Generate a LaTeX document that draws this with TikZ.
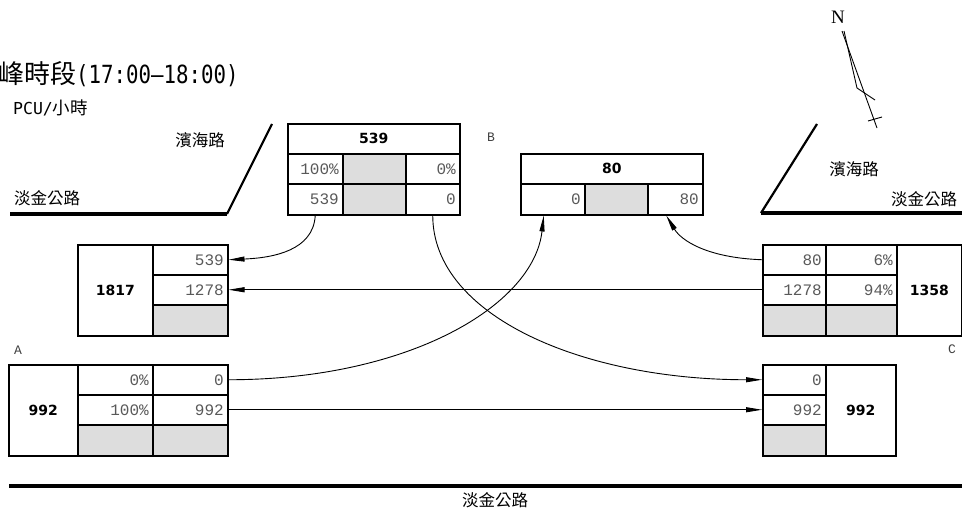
\documentclass[tikz,border=0pt]{standalone}
\usepackage{fontspec}
\usetikzlibrary{arrows.meta}
\newfontfamily\cjkfont{Noto Sans CJK TC}
\newfontfamily\numfont{Liberation Mono}
\newfontfamily\hdfont{DejaVu Sans}
\newfontfamily\gothfont[FakeStretch=0.83]{DejaVu Sans Mono}
\newfontfamily\gothwide{DejaVu Sans Mono}
\newfontfamily\nfont{Liberation Serif}
\definecolor{cellgray}{HTML}{DDDDDD}

\begin{document}
\begin{tikzpicture}[x=1pt, y=-1pt,
      cell/.style={draw, line width=1.5pt, anchor=north west, inner xsep=4pt, inner ysep=0pt, minimum height=30pt,
        text width=#1, align=right, font=\fontsize{16}{16}\selectfont\numfont, text=black!65},
      graycell/.style={cell=#1, fill=cellgray},
      hdcell/.style={draw, line width=1.5pt, anchor=north west, inner sep=0pt, minimum width=#1, minimum height=30pt,
        font=\fontsize{14}{14}\selectfont\hdfont\bfseries},
      tag/.style={font=\fontsize{13}{13}\selectfont\numfont, text=black!75},
      rname/.style={font=\fontsize{16.5}{17}\selectfont\cjkfont},
      arr/.style={-{Triangle[length=16pt,width=5pt]}, line width=0.9pt}]
    \useasboundingbox (0,0) rectangle (962,511);
    \node[anchor=base west, inner sep=0pt, font=\fontsize{26}{26}\selectfont\cjkfont] (title) at (-2,84)
      {峰時段{\fontsize{25}{25}\selectfont\gothfont(17:00–18:00)}};
    \node[anchor=base west, inner sep=0pt, font=\fontsize{17.5}{17}\selectfont\cjkfont] (unit) at (13,114)
      {{\fontsize{16.5}{16}\selectfont\gothwide PCU/}小時};
    \draw[line width=3.5pt] (10,214) -- (227,214);
    \draw[line width=2.2pt] (227,214) -- (272,124);
    \draw[line width=3.5pt] (761,213) -- (962,213);
    \draw[line width=2.2pt] (761,213) -- (817,124);
    \draw[line width=4pt] (9,486) -- (962,486);
    \node[rname] (tl road) at (200,140) {濱海路};
    \node[rname] (tl main) at (47,198) {淡金公路};
    \node[rname] (tr road) at (854,169) {濱海路};
    \node[rname] (tr main) at (924,199) {淡金公路};
    \node[rname] (bt main) at (495,500) {淡金公路};
    \node[font=\fontsize{19}{19}\selectfont\nfont] (north) at (838,17) {N};
    \draw[line width=0.9pt] (842,31) -- (877,128);
    \draw[line width=0.9pt] (844,31) -- (857,88) -- (875,100);
    \draw[line width=0.9pt] (868,121) -- (882,117);
    \node[tag] (la) at (18,350) {A};
    \node[tag] (lb) at (491,137) {B};
    \node[tag] (lc) at (952,349) {C};
    \node[hdcell=172pt] (tsum) at (287,123) {539};
    \node[cell=47pt] (tpl) at (287,153) {100\%};
    \node[graycell=55pt] (tpm) at (342,153) {};
    \node[cell=46pt] (tpr) at (405,153) {0\%};
    \node[cell=47pt, minimum height=31pt] (tvl) at (287,183) {539};
    \node[graycell=55pt, minimum height=31pt] (tvm) at (342,183) {};
    \node[cell=46pt, minimum height=31pt] (tvr) at (405,183) {0};
    \node[hdcell=182pt] (bsum) at (520,153) {80};
    \node[cell=56pt, minimum height=31pt] (bvl) at (520,183) {0};
    \node[graycell=55pt, minimum height=31pt] (bvm) at (584,183) {};
    \node[cell=47pt, minimum height=31pt] (bvr) at (647,183) {80};
    \node[hdcell=75pt, minimum height=91pt] (lsum) at (77,244) {1817};
    \node[cell=67pt] (lv1) at (152,244) {539};
    \node[cell=67pt] (lv2) at (152,274) {1278};
    \node[graycell=67pt, minimum height=31pt] (lv3) at (152,304) {};
    \node[cell=55pt] (rv1) at (762,244) {80};
    \node[cell=63pt] (rp1) at (825,244) {6\%};
    \node[cell=55pt] (rv2) at (762,274) {1278};
    \node[cell=63pt] (rp2) at (825,274) {94\%};
    \node[graycell=55pt, minimum height=31pt] (rg1) at (762,304) {};
    \node[graycell=63pt, minimum height=31pt] (rg2) at (825,304) {};
    \node[hdcell=65pt, minimum height=91pt] (rsum) at (896,244) {1358};
    \node[hdcell=69pt, minimum height=91pt] (asum) at (8,364) {992};
    \node[cell=67pt] (ap1) at (77,364) {0\%};
    \node[cell=67pt] (av1) at (152,364) {0};
    \node[cell=67pt] (ap2) at (77,394) {100\%};
    \node[cell=67pt] (av2) at (152,394) {992};
    \node[graycell=67pt, minimum height=31pt] (ag1) at (77,424) {};
    \node[graycell=67pt, minimum height=31pt] (ag2) at (152,424) {};
    \node[cell=55pt] (cv1) at (762,364) {0};
    \node[cell=55pt] (cv2) at (762,394) {992};
    \node[graycell=55pt, minimum height=31pt] (cg) at (762,424) {};
    \node[hdcell=70pt, minimum height=91pt] (csum) at (825,364) {992};
    \draw[arr] (tvl.south) .. controls +(-2,35) and +(45,-2) .. (lv1.east);
    \draw[arr] (tvr.south) .. controls +(0,100) and +(-180,0) .. (cv1.west);
    \draw[arr] (av1.east) .. controls +(180,0) and +(-10,90) .. ([xshift=-9pt]bvl.south);
    \draw[arr] (av2.east) -- (cv2.west);
    \draw[arr] (rv1.west) .. controls +(-55,-2) and +(15,25) .. ([xshift=-9pt]bvr.south);
    \draw[arr] (rv2.west) -- (lv2.east);
  \end{tikzpicture}
\end{document}
